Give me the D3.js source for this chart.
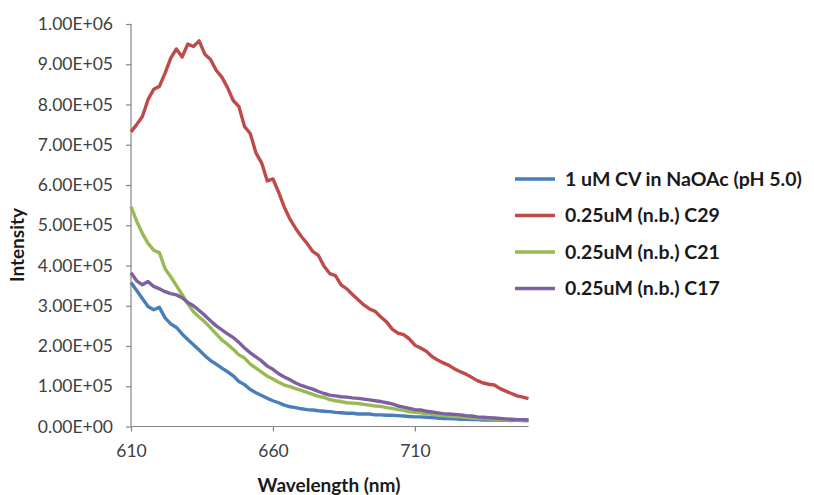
<!DOCTYPE html>
<html>
<head>
<meta charset="utf-8">
<script src="https://cdn.jsdelivr.net/npm/d3@7"></script>
<style>
  body { margin: 0; background: #fff; }
  svg { display: block; }
</style>
</head>
<body>
<script>
// wavelength (nm), 2 nm steps
const wavelengths = [610, 612, 614, 616, 618, 620, 622, 624, 626, 628,
  630, 632, 634, 636, 638, 640, 642, 644, 646, 648,
  650, 652, 654, 656, 658, 660, 662, 664, 666, 668,
  670, 672, 674, 676, 678, 680, 682, 684, 686, 688,
  690, 692, 694, 696, 698, 700, 702, 704, 706, 708,
  710, 712, 714, 716, 718, 720, 722, 724, 726, 728,
  730, 732, 734, 736, 738, 740, 742, 744, 746, 748, 750];

// intensities in thousands of counts
const cvNaOAc = [358, 338, 318, 298, 290, 296, 270, 255, 246, 230,
  216, 203, 190, 176, 164, 155, 145, 136, 126, 112,
  104, 92, 84, 77, 70, 64, 59, 53, 49, 47,
  44, 42, 41, 39, 38, 37, 35, 34, 33, 33,
  31, 31, 31, 29, 29, 28, 28, 27, 26, 25,
  24, 24, 23, 22, 21, 20, 20, 19, 18, 18,
  17, 17, 16, 16, 16, 16, 16, 15, 16, 15, 15];

const c29 = [732, 750, 770, 812, 838, 845, 878, 915, 938, 918,
  950, 944, 958, 925, 912, 885, 868, 842, 810, 795,
  745, 728, 680, 655, 610, 615, 582, 545, 515, 492,
  472, 455, 435, 425, 398, 380, 375, 352, 342, 328,
  315, 302, 292, 286, 272, 260, 242, 232, 228, 218,
  202, 195, 187, 174, 165, 158, 152, 143, 136, 130,
  122, 114, 108, 105, 103, 94, 88, 82, 76, 73, 69];

const c21 = [546, 510, 480, 455, 438, 432, 392, 372, 350, 328,
  305, 285, 272, 260, 245, 230, 215, 204, 192, 178,
  170, 155, 145, 135, 125, 118, 110, 103, 99, 94,
  90, 85, 80, 75, 72, 67, 64, 62, 59, 58,
  57, 55, 53, 51, 50, 47, 45, 42, 40, 37,
  35, 34, 32, 30, 29, 27, 26, 25, 24, 22,
  21, 20, 20, 19, 18, 18, 17, 16, 16, 15, 15];

const c17 = [382, 362, 352, 360, 348, 342, 335, 330, 327, 320,
  308, 300, 288, 276, 263, 250, 240, 230, 221, 209,
  195, 183, 173, 163, 150, 142, 131, 123, 116, 108,
  102, 97, 93, 87, 82, 78, 76, 74, 73, 71,
  70, 68, 66, 64, 62, 59, 56, 51, 48, 45,
  42, 41, 38, 36, 34, 32, 31, 30, 29, 27,
  26, 24, 23, 22, 21, 20, 19, 18, 17, 17, 16];

const seriesNames = ["1 uM CV in NaOAc (pH 5.0)", "0.25uM (n.b.) C29", "0.25uM (n.b.) C21", "0.25uM (n.b.) C17"];
const seriesValues = [cvNaOAc, c29, c21, c17];
const seriesColors = ["#4a7ebb", "#be4b48", "#98b954", "#7d60a0"];

const yTicks = [0, 1e5, 2e5, 3e5, 4e5, 5e5, 6e5, 7e5, 8e5, 9e5, 1e6];
const xTicks = [610, 660, 710];
const UNIT = 1000;

const W = 814, H = 495;
const FONT = "Lato, 'Open Sans', sans-serif";
const svg = d3.select("body").append("svg")
  .attr("width", W)
  .attr("height", H);

const x = d3.scaleLinear().domain([610, 750]).range([131, 528.5]);
const y = d3.scaleLinear().domain([0, 1e6]).range([426.5, 24]);

const sci = v => {
  if (v === 0) return "0.00E+00";
  const e = Math.floor(Math.log10(v));
  return (v / Math.pow(10, e)).toFixed(2) + "E+" + String(e).padStart(2, "0");
};

const axisColor = "#868686";
const labelColor = "#404040";

const yAxis = svg.append("g")
  .attr("transform", "translate(" + x(610) + ",0)")
  .call(d3.axisLeft(y).tickValues(yTicks).tickSize(5).tickPadding(13).tickFormat(sci));

const xAxis = svg.append("g")
  .attr("transform", "translate(0," + y(0) + ")")
  .call(d3.axisBottom(x).tickValues(xTicks).tickSize(5).tickPadding(13).tickFormat(d3.format("d")));

[yAxis, xAxis].forEach(a => {
  a.select(".domain").attr("stroke", axisColor).attr("stroke-width", 1.2);
  a.selectAll(".tick line").attr("stroke", axisColor).attr("stroke-width", 1.2);
  a.selectAll(".tick text")
    .attr("fill", labelColor)
    .style("font-family", FONT)
    .style("font-size", "17.5px");
});
// no outer tick stubs on the domain
yAxis.select(".domain").attr("d", "M0," + y(1e6) + "V" + y(0));
xAxis.select(".domain").attr("d", "M" + x(610) + ",0H" + x(750));

const line = d3.line()
  .x((d, i) => x(wavelengths[i]))
  .y(d => y(d * UNIT));

const lines = svg.append("g");
seriesValues.forEach((vals, i) => {
  lines.append("path")
    .datum(vals)
    .attr("fill", "none")
    .attr("stroke", seriesColors[i])
    .attr("stroke-width", 3.4)
    .attr("stroke-linejoin", "round")
    .attr("d", line);
});

svg.append("text")
  .attr("x", 329)
  .attr("y", 492)
  .attr("text-anchor", "middle")
  .attr("fill", "#1a1a1a")
  .style("font-family", FONT)
  .style("font-weight", "bold")
  .style("font-size", "19px")
  .text("Wavelength (nm)");

svg.append("text")
  .attr("transform", "translate(24,245) rotate(-90)")
  .attr("text-anchor", "middle")
  .attr("fill", "#1a1a1a")
  .style("font-family", FONT)
  .style("font-weight", "bold")
  .style("font-size", "19px")
  .text("Intensity");

const legend = svg.append("g").attr("transform", "translate(515,179)");
seriesNames.forEach((name, i) => {
  const row = legend.append("g").attr("transform", "translate(0," + (i * 36.5) + ")");
  row.append("line")
    .attr("x1", 0).attr("x2", 40)
    .attr("stroke", seriesColors[i])
    .attr("stroke-width", 3.4);
  row.append("text")
    .attr("x", 50)
    .attr("dy", "0.35em")
    .attr("fill", "#1a1a1a")
    .style("font-family", FONT)
    .style("font-weight", "bold")
    .style("font-size", "19.5px")
    .text(name);
});
</script>
</body>
</html>
